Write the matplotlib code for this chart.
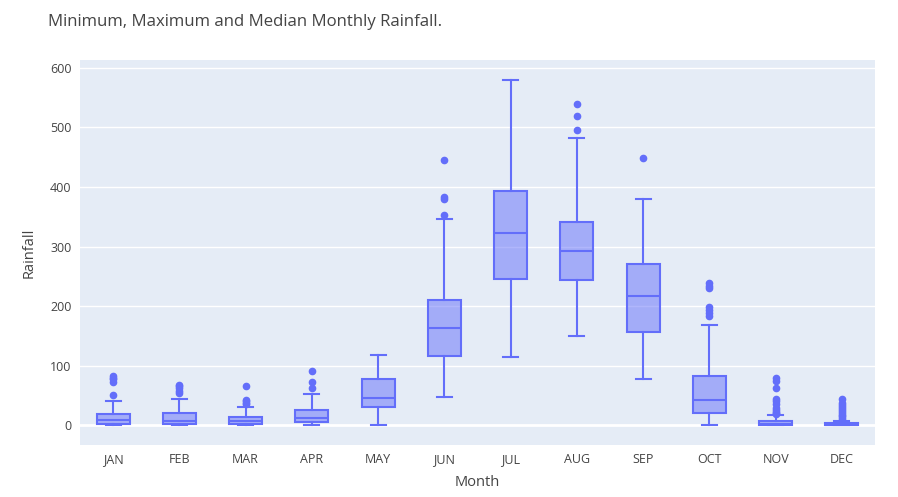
import matplotlib.pyplot as plt

# Data (monthly rainfall box stats)
months = ["JAN", "FEB", "MAR", "APR", "MAY", "JUN", "JUL", "AUG", "SEP", "OCT", "NOV", "DEC"]
lower = [0, 0, 0, 0, 1, 47, 114, 150, 78, 0, 0, 0]
q1 = [2, 2, 2, 5, 31, 116, 245, 244, 156, 20, 0, 0]
median = [9, 8, 7, 13, 46, 163, 322, 292, 217, 43, 2, 1]
q3 = [19, 21, 14, 25, 77, 211, 394, 342, 270, 82, 8, 4]
upper = [41, 44, 31, 53, 118, 346, 580, 482, 379, 168, 17, 7]
outliers = [
    [51, 72, 77, 80, 83],
    [55, 58, 62, 66, 68],
    [35, 37, 40, 43, 66],
    [62, 73, 92],
    [],
    [353, 379, 383, 446],
    [],
    [495, 519, 540],
    [449],
    [183, 188, 193, 198, 230, 234, 238],
    [19, 21, 23, 25, 29, 36, 40, 45, 62, 75, 79],
    [9, 12, 15, 18, 21, 24, 27, 30, 34, 37, 45],
]

color = "#636efa"
bg = "#E5ECF6"
text_col = "#444444"

plt.rcParams["font.family"] = ["Open Sans", "DejaVu Sans"]

fig = plt.figure(figsize=(8.98, 4.97), dpi=100)
ax = fig.add_axes([80 / 898, 1 - 445 / 497, 795 / 898, 385 / 497])
ax.set_facecolor(bg)

stats = []
for i, m in enumerate(months):
    stats.append({
        "label": m, "whislo": lower[i], "q1": q1[i], "med": median[i],
        "q3": q3[i], "whishi": upper[i], "fliers": outliers[i],
    })

ax.bxp(stats, positions=range(len(months)), widths=0.5, capwidths=0.23,
       patch_artist=True, showfliers=True,
       boxprops=dict(facecolor=(0.388, 0.431, 0.98, 0.5), edgecolor=color, linewidth=1.5),
       medianprops=dict(color=color, linewidth=1.5),
       whiskerprops=dict(color=color, linewidth=1.5),
       capprops=dict(color=color, linewidth=1.5),
       flierprops=dict(marker="o", markerfacecolor=color, markeredgecolor=color,
                       markersize=4.5, linestyle="none"))

ax.set_xlim(-0.5, 11.5)
ax.set_ylim(-33, 613)
ax.set_yticks([0, 100, 200, 300, 400, 500, 600])
ax.grid(axis="y", color="white", linewidth=1)
ax.axhline(0, color="white", linewidth=2, zorder=0.5)
ax.set_axisbelow(True)
for s in ax.spines.values():
    s.set_visible(False)
ax.tick_params(length=0, colors=text_col, labelsize=9, pad=6)

ax.set_xlabel("Month", color=text_col, fontsize=10.5, labelpad=6)
ax.set_ylabel("Rainfall", color=text_col, fontsize=10.5, labelpad=10)
fig.text(48 / 898, 1 - 22 / 497, "Minimum, Maximum and Median Monthly Rainfall.",
         color=text_col, fontsize=12.1, va="center", ha="left")

fig.savefig("out.png", dpi=100)
